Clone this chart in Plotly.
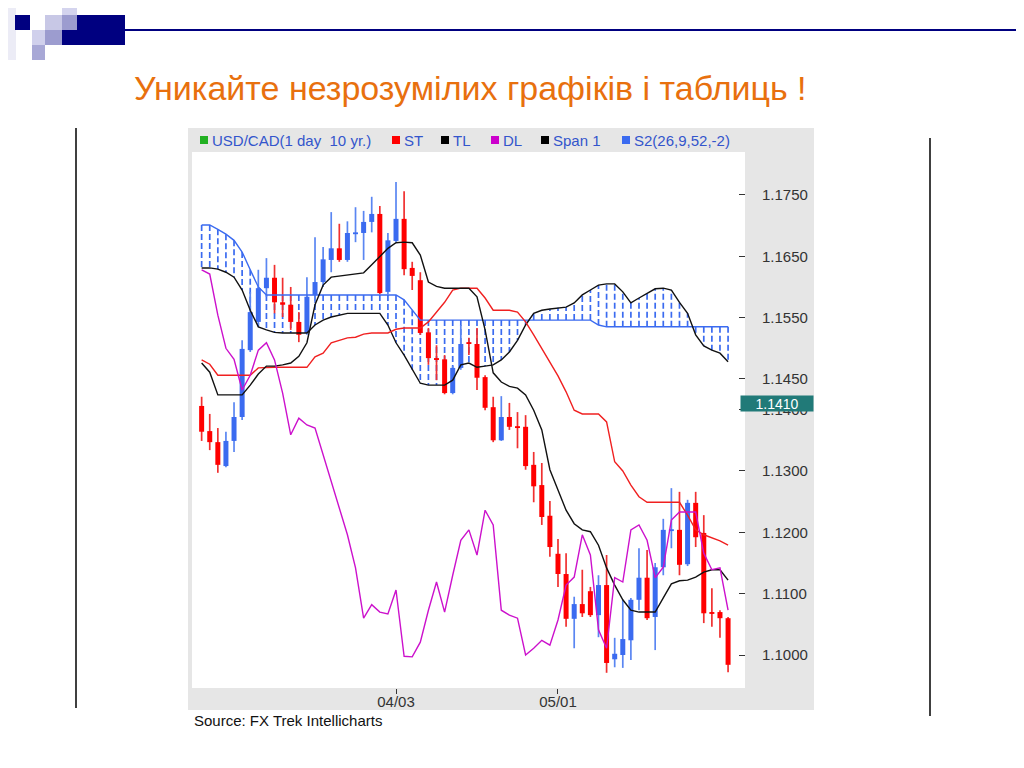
import plotly.graph_objects as go

W, H = 1024, 768

# USD/CAD daily candles, 28 Feb .. 30 May (index = trading day)
tick_pos = [24, 44]
tick_text = ["04/03", "05/01"]

opens = [1.1406, 1.1365, 1.1347, 1.1308, 1.1349, 1.1388, 1.1497, 1.1543, 1.1598, 1.1615,
         1.1575, 1.1571, 1.1543, 1.1525, 1.1587, 1.1608, 1.1644, 1.1663, 1.1644, 1.1686,
         1.1688, 1.1706, 1.1719, 1.1592, 1.1675, 1.1711, 1.1631, 1.1611, 1.1526, 1.1484,
         1.1482, 1.1427, 1.1468, 1.1510, 1.1507, 1.1453, 1.1404, 1.1350, 1.1388, 1.1373,
         1.1372, 1.1310, 1.1277, 1.1227, 1.1165, 1.1132, 1.1059, 1.1083, 1.1104, 1.1065,
         1.1114, 1.0993, 1.1000, 1.1024, 1.1090, 1.1126, 1.1062, 1.1143, 1.1202, 1.1204,
         1.1148, 1.1248, 1.1199, 1.1068, 1.1070, 1.1060]
highs = [1.1421, 1.1393, 1.1370, 1.1364, 1.1412, 1.1513, 1.1592, 1.1628, 1.1647, 1.1636,
         1.1615, 1.1600, 1.1559, 1.1616, 1.1681, 1.1665, 1.1722, 1.1703, 1.1707, 1.1730,
         1.1724, 1.1747, 1.1732, 1.1688, 1.1771, 1.1756, 1.1641, 1.1624, 1.1533, 1.1505,
         1.1489, 1.1471, 1.1538, 1.1517, 1.1533, 1.1456, 1.1421, 1.1422, 1.1411, 1.1396,
         1.1391, 1.1331, 1.1313, 1.1251, 1.1189, 1.1166, 1.1095, 1.1139, 1.1111, 1.1130,
         1.1163, 1.1028, 1.1090, 1.1093, 1.1174, 1.1171, 1.1150, 1.1222, 1.1272, 1.1266,
         1.1253, 1.1266, 1.1228, 1.1109, 1.1073, 1.1062]
lows = [1.1349, 1.1334, 1.1297, 1.1306, 1.1331, 1.1383, 1.1494, 1.1538, 1.1584, 1.1557,
        1.1551, 1.1530, 1.1510, 1.1522, 1.1574, 1.1600, 1.1624, 1.1641, 1.1641, 1.1673,
        1.1644, 1.1689, 1.1588, 1.1588, 1.1673, 1.1619, 1.1595, 1.1522, 1.1473, 1.1448,
        1.1425, 1.1425, 1.1465, 1.1489, 1.1432, 1.1399, 1.1347, 1.1349, 1.1367, 1.1337,
        1.1302, 1.1249, 1.1212, 1.1160, 1.1111, 1.1046, 1.1011, 1.1062, 1.1062, 1.1029,
        1.0971, 1.0980, 1.0979, 1.0992, 1.1073, 1.1057, 1.1008, 1.1130, 1.1174, 1.1130,
        1.1145, 1.1176, 1.1052, 1.1046, 1.1028, 1.0972]
closes = [1.1364, 1.1347, 1.1310, 1.1349, 1.1388, 1.1499, 1.1559, 1.1598, 1.1615, 1.1575,
          1.1571, 1.1543, 1.1522, 1.1584, 1.1608, 1.1645, 1.1663, 1.1644, 1.1688, 1.1689,
          1.1706, 1.1719, 1.1590, 1.1676, 1.1711, 1.1629, 1.1618, 1.1525, 1.1484, 1.1481,
          1.1427, 1.1468, 1.1507, 1.1507, 1.1452, 1.1403, 1.1350, 1.1388, 1.1372, 1.1370,
          1.1308, 1.1275, 1.1225, 1.1176, 1.1132, 1.1059, 1.1083, 1.1068, 1.1065, 1.1114,
          1.0987, 1.1002, 1.1026, 1.1090, 1.1126, 1.1060, 1.1143, 1.1204, 1.1205, 1.1147,
          1.1248, 1.1192, 1.1068, 1.1067, 1.1060, 1.0984]

st = [1.1481, 1.1474, 1.1456, 1.1456, 1.1456, 1.1456, 1.1456, 1.1468, 1.1469, 1.1469,
      1.1469, 1.1469, 1.1469, 1.1469, 1.1486, 1.1492, 1.1509, 1.1513, 1.1517, 1.1518,
      1.1523, 1.1525, 1.1525, 1.1525, 1.1531, 1.1533, 1.1533, 1.1533, 1.1543, 1.1559,
      1.1575, 1.1595, 1.1598, 1.1598, 1.1598, 1.1582, 1.1562, 1.1562, 1.1562, 1.1559,
      1.1543, 1.1522, 1.1500, 1.1478, 1.1455, 1.1429, 1.1399, 1.1393, 1.1393, 1.1393,
      1.1380, 1.1315, 1.1300, 1.1277, 1.1258, 1.1249, 1.1249, 1.1249, 1.1249, 1.1249,
      1.1228, 1.1204, 1.1196, 1.1191, 1.1186, 1.1179]
tl = [1.1476, 1.1461, 1.1424, 1.1424, 1.1424, 1.1424, 1.1440, 1.1458, 1.1471, 1.1471,
      1.1473, 1.1476, 1.1487, 1.1509, 1.1571, 1.1603, 1.1616, 1.1618, 1.1619, 1.1621,
      1.1623, 1.1636, 1.1650, 1.1663, 1.1672, 1.1673, 1.1672, 1.1652, 1.1608, 1.1601,
      1.1598, 1.1598, 1.1598, 1.1598, 1.1584, 1.1530, 1.1460, 1.1445, 1.1438, 1.1435,
      1.1424, 1.1399, 1.1367, 1.1302, 1.1269, 1.1236, 1.1214, 1.1204, 1.1201, 1.1179,
      1.1142, 1.1114, 1.1090, 1.1073, 1.1070, 1.1070, 1.1070, 1.1093, 1.1116, 1.1121,
      1.1122, 1.1127, 1.1135, 1.1139, 1.1139, 1.1122]
dl = [1.1628, 1.1621, 1.1554, 1.1500, 1.1482, 1.1432, 1.1456, 1.1497, 1.1509, 1.1481,
      1.1427, 1.1359, 1.1386, 1.1375, 1.1370, 1.1326, 1.1285, 1.1241, 1.1196, 1.1142,
      1.1060, 1.1082, 1.1070, 1.1067, 1.1106, 1.0998, 1.0997, 1.1021, 1.1073, 1.1119,
      1.1070, 1.1130, 1.1187, 1.1204, 1.1163, 1.1236, 1.1212, 1.1073, 1.1065, 1.1060,
      1.1000, 1.1011, 1.1024, 1.1016, 1.1057, 1.1114, 1.1127, 1.1196, 1.1163, 1.1041,
      1.1011, 1.1126, 1.1119, 1.1204, 1.1212, 1.1187, 1.1126, 1.1143, 1.1220, 1.1233,
      1.1233, 1.1233, 1.1166, 1.1139, 1.1142, 1.1073]
span1 = [1.1631, 1.1631, 1.1629, 1.1624, 1.1616, 1.1595, 1.1562, 1.1535, 1.1530, 1.1526,
         1.1525, 1.1525, 1.1525, 1.1525, 1.1538, 1.1546, 1.1551, 1.1554, 1.1557, 1.1557,
         1.1557, 1.1557, 1.1557, 1.1538, 1.1509, 1.1489, 1.1465, 1.1443, 1.1440, 1.1440,
         1.1440, 1.1448, 1.1473, 1.1476, 1.1469, 1.1471, 1.1473, 1.1481, 1.1494, 1.1513,
         1.1538, 1.1557, 1.1562, 1.1564, 1.1566, 1.1567, 1.1574, 1.1587, 1.1595, 1.1603,
         1.1605, 1.1605, 1.1592, 1.1574, 1.1582, 1.1590, 1.1597, 1.1598, 1.1595, 1.1575,
         1.1557, 1.1522, 1.1504, 1.1497, 1.1492, 1.1478]
s2 = [1.1701, 1.1701, 1.1694, 1.1686, 1.1676, 1.1657, 1.1628, 1.1600, 1.1587, 1.1587,
      1.1587, 1.1587, 1.1587, 1.1587, 1.1587, 1.1587, 1.1587, 1.1587, 1.1587, 1.1587,
      1.1587, 1.1587, 1.1587, 1.1587, 1.1587, 1.1579, 1.1562, 1.1546, 1.1546, 1.1546,
      1.1546, 1.1546, 1.1546, 1.1546, 1.1546, 1.1546, 1.1546, 1.1546, 1.1546, 1.1546,
      1.1546, 1.1546, 1.1546, 1.1546, 1.1546, 1.1546, 1.1546, 1.1546, 1.1546, 1.1538,
      1.1535, 1.1535, 1.1535, 1.1535, 1.1535, 1.1535, 1.1535, 1.1535, 1.1535, 1.1535,
      1.1535, 1.1535, 1.1535, 1.1535, 1.1535, 1.1535]

y_ticks = [1.1000, 1.1100, 1.1200, 1.1300, 1.1400, 1.1450, 1.1550, 1.1650, 1.1750]
last_price = 1.1410

legend_labels = ["USD/CAD(1 day\u00a0\u00a010 yr.)", "ST", "TL", "DL", "Span 1", "S2(26,9,52,-2)"]
legend_colors = ["#22B022", "#FF0000", "#000000", "#CC00CC", "#000000", "#3B6BF0"]
legend_x = [200, 392, 441, 491, 541, 622]

RED = "#FF0000"
BLUE = "#3B6BF0"
FONT = "Liberation Sans, Arial, sans-serif"
PAGE = 8  # body margin of the html page


def px(x):
    return (x - PAGE) / W


def py(y):
    return 1 - (y - PAGE) / H


def segments(idx, lo, hi):
    xs, ys = [], []
    for i in idx:
        xs += [i, i, None]
        ys += [lo[i], hi[i], None]
    return xs, ys


n = len(closes)
x = list(range(n))
up = [i for i in x if closes[i] >= opens[i]]
down = [i for i in x if closes[i] < opens[i]]
body_lo = [min(opens[i], closes[i]) for i in x]
body_hi = [max(max(opens[i], closes[i]), min(opens[i], closes[i]) + 0.0003) for i in x]

fig = go.Figure()

# cloud hatching (vertical dashes between Span 1 and S2)
hx, hy = segments(x, s2, span1)
fig.add_trace(go.Scatter(x=hx, y=hy, mode="lines",
                         line=dict(color=BLUE, width=1.7, dash="6px,3px")))

# candles: wicks then bodies
for idx, col, wcol in [(up, BLUE, "#5A86F2"), (down, RED, "#F03030")]:
    wx, wy = segments(idx, lows, highs)
    fig.add_trace(go.Scatter(x=wx, y=wy, mode="lines", line=dict(color=wcol, width=1.7)))
    bx, by = segments(idx, body_lo, body_hi)
    fig.add_trace(go.Scatter(x=bx, y=by, mode="lines", line=dict(color=col, width=5)))

for series, col in [(s2, "#3B6BF0"), (span1, "#111111"), (st, "#F02020"),
                    (tl, "#111111"), (dl, "#CC11CC")]:
    fig.add_trace(go.Scatter(x=x, y=series, mode="lines",
                             line=dict(color=col, width=1.4)))

shapes = [
    # grey chart frame and white plot area
    dict(type="rect", xref="paper", yref="paper", x0=px(188), x1=px(814), y0=py(710), y1=py(128),
         fillcolor="#E6E6E6", line_width=0, layer="below"),
    dict(type="rect", xref="paper", yref="paper", x0=px(192), x1=px(745), y0=py(688), y1=py(152),
         fillcolor="white", line_width=0, layer="below"),
    # slide rules
    dict(type="line", xref="paper", yref="paper", x0=px(76), x1=px(76), y0=py(708), y1=py(128),
         line=dict(color="black", width=1.5)),
    dict(type="line", xref="paper", yref="paper", x0=px(930), x1=px(930), y0=py(716), y1=py(138),
         line=dict(color="black", width=1.5)),
]

# slide decoration squares
deco = [
    (8, 16, 8, 60, "#ECECF6"),
    (15, 30, 15, 30, "#000080"),
    (45, 62, 15, 30, "#C8C8E6"),
    (62, 77, 15, 30, "#9C9CCF"),
    (62, 77, 8, 15, "#D4D4EE"),
    (77, 125, 15, 30, "#000080"),
    (62, 125, 30, 45, "#000080"),
    (32, 45, 30, 45, "#D0D0EC"),
    (45, 62, 30, 45, "#9C9CCF"),
    (32, 45, 45, 60, "#A8A8D6"),
]
for x0, x1, y0, y1, c in deco:
    shapes.append(dict(type="rect", xref="paper", yref="paper", x0=px(x0), x1=px(x1),
                       y0=py(y1), y1=py(y0), fillcolor=c, line_width=0))
shapes.append(dict(type="line", xref="paper", yref="paper", x0=px(125), x1=1, y0=py(30), y1=py(30),
                   line=dict(color="#000080", width=2)))

annotations = [
    dict(text="Уникайте незрозумілих графіків і таблиць !", x=px(470), y=py(88),
         xref="paper", yref="paper", showarrow=False, xanchor="center", yanchor="middle",
         font=dict(family=FONT, size=34, color="#E8700E")),
    dict(text="Source: FX Trek Intellicharts", x=px(192), y=py(720),
         xref="paper", yref="paper", showarrow=False, xanchor="left", yanchor="middle",
         font=dict(family=FONT, size=15, color="#111111")),
    dict(text=f"{last_price:.4f}", x=px(777), y=last_price, xref="paper", yref="y",
         showarrow=False, xanchor="center", yanchor="middle", width=70, height=13,
         bgcolor="#217A78", font=dict(family=FONT, size=14, color="white")),
]

for lx, lab, c in zip(legend_x, legend_labels, legend_colors):
    shapes.append(dict(type="rect", xref="paper", yref="paper", x0=px(lx), x1=px(lx + 8),
                       y0=py(144), y1=py(136), fillcolor=c, line_width=0))
    annotations.append(dict(text=lab, x=px(lx + 10), y=py(140), xref="paper", yref="paper",
                            showarrow=False, xanchor="left", yanchor="middle",
                            font=dict(family=FONT, size=15, color="#3355CC")))

fig.update_layout(
    width=W, height=H, autosize=False,
    margin=dict(l=0, r=0, t=0, b=0),
    paper_bgcolor="white",
    plot_bgcolor="rgba(0,0,0,0)",
    showlegend=False,
    shapes=shapes,
    annotations=annotations,
    xaxis=dict(domain=[px(192), px(745)], range=[-1.19, 67.09],
               tickvals=tick_pos, ticktext=tick_text, ticks="outside", ticklen=5,
               tickcolor="#333333", showgrid=False, zeroline=False, showline=False,
               ticklabelstandoff=-5,
               tickfont=dict(family=FONT, size=15, color="#333333")),
    yaxis=dict(domain=[py(688), py(152)], range=[1.09462, 1.18200], side="right",
               tickvals=y_ticks, tickformat=".4f", ticks="inside", ticklen=6,
               tickcolor="#333333", showgrid=False, zeroline=False, showline=False,
               ticklabelstandoff=16,
               tickfont=dict(family=FONT, size=15, color="#333333")),
)

fig.write_html("out.html")
